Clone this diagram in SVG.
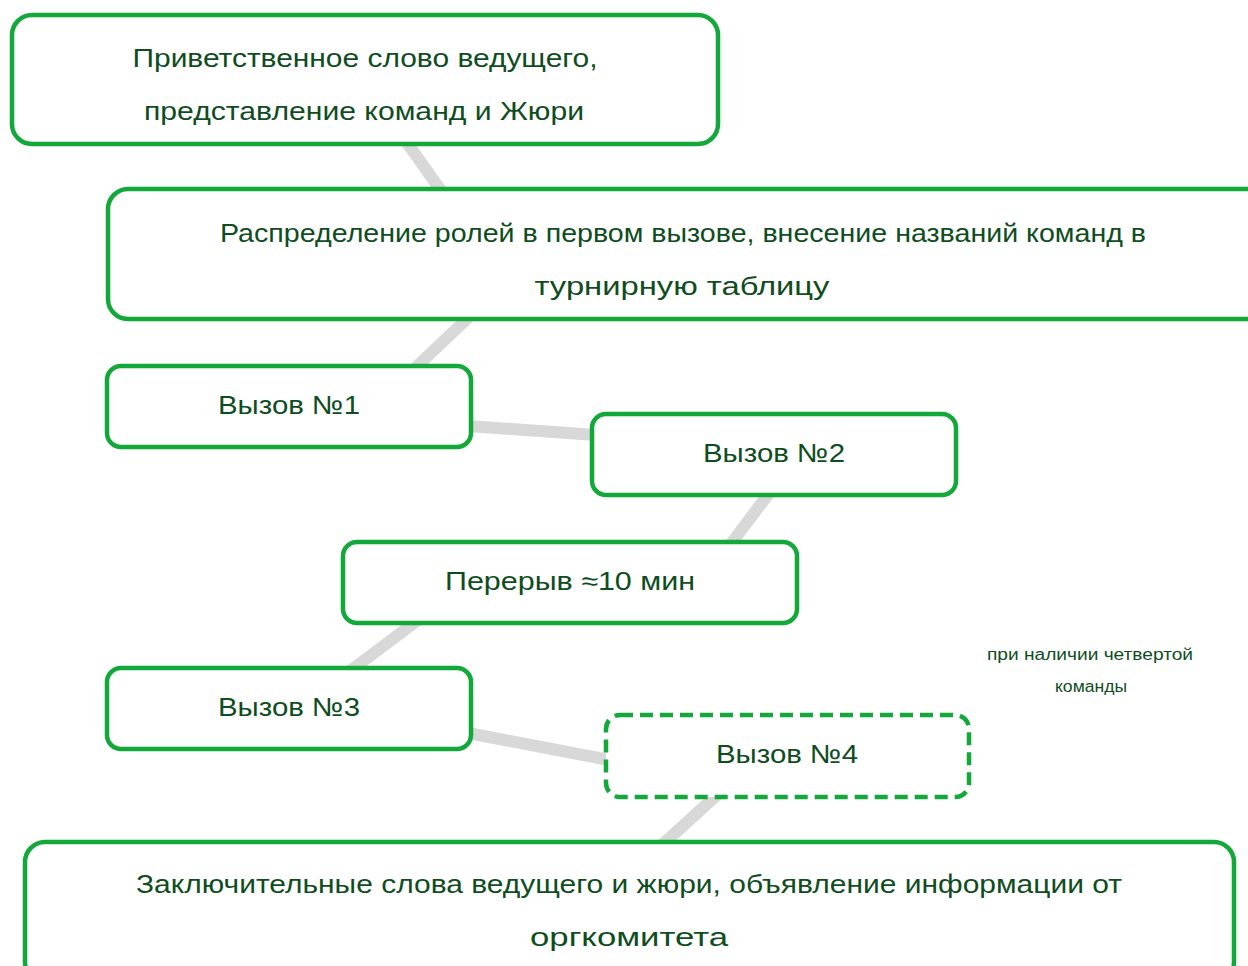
<svg xmlns="http://www.w3.org/2000/svg" width="1248" height="966" viewBox="0 0 1248 966">
<style>
.box{fill:#ffffff;stroke:#12a83a;stroke-width:4.5}
.dash{stroke-dasharray:13 7}
.t{font-family:"Liberation Sans","DejaVu Sans",sans-serif;font-size:26px;fill:#0f4d1e;text-anchor:middle}
.s{font-size:16px}
.c{stroke:#d8d8d8;stroke-width:12;fill:none}
</style>
<rect width="1248" height="966" fill="#ffffff"/>
<g id="connectors">
<line class="c" x1="405" y1="140" x2="442" y2="192"/>
<line class="c" x1="470" y1="316" x2="413" y2="370"/>
<line class="c" x1="468" y1="426" x2="596" y2="435"/>
<line class="c" x1="770" y1="492" x2="730" y2="545"/>
<line class="c" x1="418" y1="620" x2="350" y2="671"/>
<line class="c" x1="468" y1="733" x2="609" y2="760"/>
<line class="c" x1="718" y1="794" x2="662" y2="845"/>
</g>
<g id="n1">
<rect class="box" x="12" y="15" width="706" height="129" rx="20"/>
<text class="t" x="365" y="67" textLength="465" lengthAdjust="spacingAndGlyphs">Приветственное слово ведущего,</text>
<text class="t" x="364" y="120" textLength="440" lengthAdjust="spacingAndGlyphs">представление команд и Жюри</text>
</g>
<g id="n2">
<rect class="box" x="108" y="189" width="1160" height="130" rx="20"/>
<text class="t" x="683" y="242" textLength="926" lengthAdjust="spacingAndGlyphs">Распределение ролей в первом вызове, внесение названий команд в</text>
<text class="t" x="682" y="295" textLength="295" lengthAdjust="spacingAndGlyphs">турнирную таблицу</text>
</g>
<g id="n3">
<rect class="box" x="107" y="366" width="364" height="81" rx="14"/>
<text class="t" x="289" y="414" textLength="142" lengthAdjust="spacingAndGlyphs">Вызов №1</text>
</g>
<g id="n4">
<rect class="box" x="592" y="414" width="364" height="81" rx="14"/>
<text class="t" x="774" y="462" textLength="142" lengthAdjust="spacingAndGlyphs">Вызов №2</text>
</g>
<g id="n5">
<rect class="box" x="343" y="542" width="454" height="81" rx="14"/>
<text class="t" x="570" y="590" textLength="250" lengthAdjust="spacingAndGlyphs">Перерыв ≈10 мин</text>
</g>
<g id="n6">
<rect class="box" x="107" y="668" width="364" height="81" rx="14"/>
<text class="t" x="289" y="716" textLength="142" lengthAdjust="spacingAndGlyphs">Вызов №3</text>
</g>
<g id="n7">
<rect class="box dash" x="606" y="715" width="363" height="82" rx="14"/>
<text class="t" x="787" y="763" textLength="142" lengthAdjust="spacingAndGlyphs">Вызов №4</text>
</g>
<g id="n8">
<rect class="box" x="25" y="842" width="1209" height="140" rx="20"/>
<text class="t" x="629" y="893" textLength="986" lengthAdjust="spacingAndGlyphs">Заключительные слова ведущего и жюри, объявление информации от</text>
<text class="t" x="629" y="946" textLength="198" lengthAdjust="spacingAndGlyphs">оргкомитета</text>
</g>
<g id="note">
<text class="t s" x="1090" y="660" textLength="206" lengthAdjust="spacingAndGlyphs">при наличии четвертой</text>
<text class="t s" x="1091" y="692" textLength="72" lengthAdjust="spacingAndGlyphs">команды</text>
</g>
</svg>
